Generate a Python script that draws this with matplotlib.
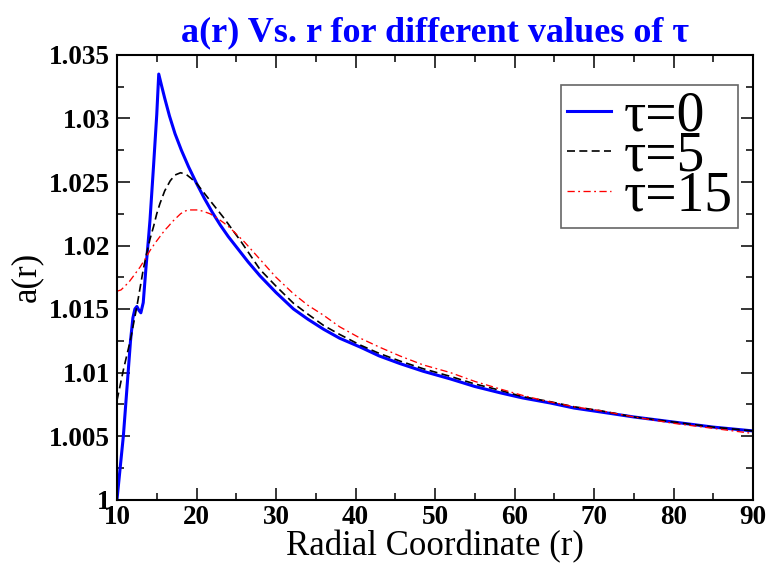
import numpy as np
import matplotlib
matplotlib.use("Agg")
import matplotlib.pyplot as plt
from matplotlib.ticker import FixedLocator, MultipleLocator

# ---- data ----
r_tau0 = [10.0, 10.4, 10.8, 11.1, 11.4, 11.7, 12.0, 12.25, 12.5, 12.75, 13.0, 13.3,
          13.65, 13.94, 14.15, 14.6, 15.0, 15.25, 15.6, 16.0, 16.6, 17.3, 18.1, 19.0,
          20.0, 21.0, 22.0, 23.0, 24.0, 25.0, 26.5, 28.0, 30.0, 32.2, 34.0, 36.0, 38.0,
          40.6, 43.0, 45.6, 48.5, 51.9, 55.0, 58.2, 61.0, 64.5, 67.5, 70.75, 75.0,
          80.0, 85.0, 90.0]
a_tau0 = [1.0000, 1.0025, 1.0050, 1.0075, 1.0100, 1.0125, 1.0143, 1.0150, 1.0152, 1.0149,
          1.0147, 1.0155, 1.0183, 1.0204, 1.0220, 1.0263, 1.0303, 1.0335, 1.0326, 1.0316,
          1.0302, 1.0288, 1.0275, 1.0262, 1.0249, 1.0237, 1.0226, 1.0216, 1.0207, 1.0199,
          1.0187, 1.0176, 1.0163, 1.0150, 1.0142, 1.0134, 1.0127, 1.0120, 1.0113, 1.0107,
          1.0101, 1.0095, 1.0089, 1.0084, 1.0080, 1.0076, 1.0072, 1.0069, 1.0065, 1.0061,
          1.0057, 1.0054]

r_tau5 = [10.0, 10.8, 11.7, 12.5, 13.3, 13.7, 14.15, 14.6, 15.0, 15.4, 16.0, 16.7, 17.3,
          18.0, 18.7, 19.3, 20.0, 21.5, 23.4, 25.5, 28.0, 30.0, 32.2, 34.0, 36.0, 38.0,
          40.6, 43.0, 45.6, 48.5, 51.9, 55.0, 58.2, 61.0, 64.5, 67.5, 70.75, 75.0, 80.0,
          85.0, 90.0]
a_tau5 = [1.0078, 1.0102, 1.0126, 1.0152, 1.0181, 1.0193, 1.0205, 1.0215, 1.0225, 1.0233,
          1.0243, 1.0251, 1.02555, 1.02573, 1.0256, 1.0253, 1.0249, 1.0237, 1.0222, 1.0204,
          1.0181, 1.0168, 1.01545, 1.0146, 1.0137, 1.0130, 1.01216, 1.0115, 1.0109, 1.0103,
          1.0097, 1.0091, 1.0086, 1.0081, 1.0077, 1.0073, 1.0070, 1.0065, 1.0061, 1.0057,
          1.0054]

r_tau15 = [10.0, 10.5, 11.0, 11.6, 12.2, 12.9, 13.5, 14.15, 14.8, 15.4, 16.0, 16.45, 17.0,
           17.5, 18.0, 18.5, 19.0, 19.6, 20.2, 20.8, 21.7, 22.5, 23.4, 24.2, 25.0, 26.0,
           27.0, 28.0, 30.0, 32.2, 34.0, 36.0, 38.0, 40.6, 43.0, 45.6, 48.5, 51.9, 55.0,
           58.2, 61.0, 63.6, 67.5, 70.75, 75.0, 80.0, 85.0, 90.0]
a_tau15 = [1.0164, 1.0165, 1.0168, 1.0172, 1.0177, 1.0183, 1.0189, 1.0196, 1.0202, 1.0207,
           1.0212, 1.0215, 1.0219, 1.0222, 1.0225, 1.0227, 1.0228, 1.0228, 1.0228, 1.0227,
           1.0225, 1.0222, 1.0218, 1.0214, 1.0209, 1.0203, 1.0196, 1.0189, 1.0175, 1.0162,
           1.0153, 1.0145, 1.0136, 1.0127, 1.0120, 1.0113, 1.0106, 1.0100, 1.0093, 1.0087,
           1.0082, 1.0078, 1.0073, 1.0070, 1.0065, 1.0060, 1.0056, 1.0052]

series_labels = ["τ=0", "τ=5", "τ=15"]
x_ticks = [10, 20, 30, 40, 50, 60, 70, 80, 90]
y_ticks = [1.0, 1.005, 1.01, 1.015, 1.02, 1.025, 1.03, 1.035]
y_tick_labels = ["1", "1.005", "1.01", "1.015", "1.02", "1.025", "1.03", "1.035"]
title = "a(r) Vs. r for different values of τ"
x_label = "Radial Coordinate (r)"
y_label = "a(r)"

# ---- figure ----
plt.rcParams['font.family'] = ['Liberation Serif', 'DejaVu Serif']
fig = plt.figure(figsize=(7.73, 5.65), dpi=100)
ax = fig.add_axes([117/773, 1 - 499.5/565, 636/773, 444.5/565])

ax.plot(r_tau0, a_tau0, color='#0000ff', lw=2.2, solid_joinstyle='round', label=series_labels[0])
ax.plot(r_tau5, a_tau5, color='black', lw=1.2, dashes=(4.8, 2.6), label=series_labels[1])
ax.plot(r_tau15, a_tau15, color='#ff0000', lw=0.95, dashes=(5.5, 2.6, 1.4, 2.6), label=series_labels[2])

ax.set_xlim(10, 90)
ax.set_ylim(1.0, 1.035)
ax.xaxis.set_major_locator(FixedLocator(x_ticks))
ax.xaxis.set_minor_locator(MultipleLocator(5))
ax.yaxis.set_major_locator(FixedLocator(y_ticks))
ax.yaxis.set_minor_locator(MultipleLocator(0.0025))
ax.set_xticklabels([str(v) for v in x_ticks])
ax.set_yticklabels(y_tick_labels)

for lab in ax.get_xticklabels() + ax.get_yticklabels():
    lab.set_fontweight('bold')
    lab.set_fontsize(19.5)

ax.tick_params(which='both', direction='in', top=True, right=True, width=1.1)
ax.tick_params(which='major', length=9)
ax.tick_params(which='minor', length=4.8)
ax.tick_params(axis='x', which='major', pad=4)
ax.tick_params(axis='y', which='major', pad=5)
for s in ax.spines.values():
    s.set_linewidth(1.5)

ax.set_xlabel(x_label, fontsize=25, labelpad=0)
ax.set_ylabel(y_label, fontsize=25, labelpad=4)
ax.set_title(title, fontsize=26, fontweight='bold', color='#0000ff', pad=10)

leg = ax.legend(loc='upper right', bbox_to_anchor=(0.9764, 0.9325), borderaxespad=0,
                fontsize=40, handlelength=0.8, handletextpad=0.22, borderpad=0.1,
                labelspacing=-0.22, fancybox=False, framealpha=1)
leg.get_frame().set_edgecolor('#666666')
leg.get_frame().set_linewidth(1.2)

fig.savefig('out.png', dpi=100)
